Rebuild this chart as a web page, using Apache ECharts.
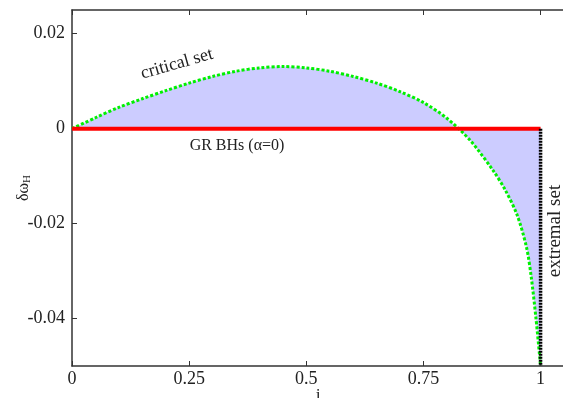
<!DOCTYPE html>
<html>
<head>
<meta charset="utf-8">
<script src="https://cdn.jsdelivr.net/npm/echarts@6/dist/echarts.min.js"></script>
<style>
  html, body { margin: 0; padding: 0; background: #fff; }
  #chart { width: 563px; height: 398px; }
</style>
</head>
<body>
<div id="chart"></div>
<script>
var xTicks = [0, 0.25, 0.5, 0.75, 1];
var yTicks = [-0.04, -0.02, 0, 0.02];

// critical set
var critJ = [0, 0.05, 0.1, 0.15, 0.2, 0.25, 0.3, 0.35, 0.4, 0.45, 0.5, 0.55, 0.6, 0.65, 0.7, 0.75, 0.8, 0.85, 0.9, 0.925, 0.95, 0.97, 0.98, 0.99, 1.0];
var critW = [0, 0.0023, 0.0045, 0.0063, 0.0080, 0.0096, 0.0110, 0.0121, 0.0128, 0.0131, 0.0128, 0.0121, 0.0110, 0.0096, 0.0078, 0.0055, 0.0022, -0.0025, -0.0090, -0.0130, -0.0182, -0.0250, -0.0312, -0.0398, -0.050];

// GR BHs line and extremal set
var grJ = [0, 1];
var grW = [0, 0];
var extJ = [1, 1];
var extW = [0, -0.05];

function pairs(a, b) {
  return a.map(function (v, i) { return [v, b[i]]; });
}

var font = 'Liberation Serif';
var myChart = echarts.init(document.getElementById('chart'));

var axisLine = { onZero: false, lineStyle: { color: '#333', width: 1.5 } };
var tick = { inside: true, length: 5, lineStyle: { color: '#333', width: 1 } };

myChart.setOption({
  backgroundColor: '#fff',
  animation: false,
  grid: { left: 72, top: 10, width: 492, height: 356, containLabel: false, outerBoundsMode: 'none' },
  xAxis: [{
    type: 'value', min: 0, max: 1.05, interval: 0.25,
    name: 'j', nameLocation: 'middle', nameGap: 21, nameMoveOverlap: false,
    nameTextStyle: { fontFamily: font, fontSize: 17, color: '#222' },
    axisLine: axisLine,
    axisTick: Object.assign({ customValues: xTicks }, tick),
    axisLabel: { customValues: xTicks, fontFamily: font, fontSize: 18, color: '#222', margin: 4,
      formatter: function (v) { return String(v); } },
    splitLine: { show: false }
  }, {
    type: 'value', position: 'top', min: 0, max: 1.05,
    axisLine: axisLine,
    axisTick: Object.assign({ customValues: xTicks }, tick),
    axisLabel: { show: false },
    splitLine: { show: false }
  }],
  yAxis: {
    type: 'value', min: -0.05, max: 0.025,
    name: '{a|δω}{s|H}', nameLocation: 'middle', nameGap: 39, nameMoveOverlap: false,
    nameTextStyle: {
      rich: {
        a: { fontFamily: font, fontSize: 16, color: '#222' },
        s: { fontFamily: font, fontSize: 11, color: '#222', verticalAlign: 'bottom', padding: [7, 0, 0, 0] }
      }
    },
    axisLine: axisLine,
    axisTick: Object.assign({ customValues: yTicks }, tick),
    axisLabel: { customValues: yTicks, fontFamily: font, fontSize: 18, color: '#222', margin: 7,
      formatter: function (v) { return String(Math.round(v * 100) / 100); } },
    splitLine: { show: false }
  },
  series: [{
    type: 'line',
    name: 'critical set',
    data: pairs(critJ, critW),
    smooth: 0.3,
    showSymbol: false,
    lineStyle: { color: '#00f000', width: 3, type: [3, 2] },
    areaStyle: { color: '#ccccff', opacity: 1, origin: 0 },
    z: 3
  }, {
    type: 'line',
    name: 'GR BHs',
    data: pairs(grJ, grW),
    showSymbol: false,
    lineStyle: { color: '#ff0000', width: 4 },
    z: 4
  }, {
    type: 'line',
    name: 'extremal set',
    data: pairs(extJ, extW),
    showSymbol: false,
    lineStyle: { color: '#000', width: 3.5, type: [2, 1] },
    z: 5
  }],
  graphic: [{
    type: 'text', x: 177, y: 64, rotation: 16 * Math.PI / 180,
    style: { text: 'critical set', font: '18px ' + font, fill: '#222', align: 'center', verticalAlign: 'middle' }
  }, {
    type: 'text', x: 237, y: 146,
    style: { text: 'GR BHs (α=0)', font: '16px ' + font, fill: '#222', align: 'center', verticalAlign: 'middle' }
  }, {
    type: 'text', x: 555, y: 231, rotation: Math.PI / 2,
    style: { text: 'extremal set', font: '19px ' + font, fill: '#222', align: 'center', verticalAlign: 'middle' }
  }]
});
</script>
</body>
</html>
